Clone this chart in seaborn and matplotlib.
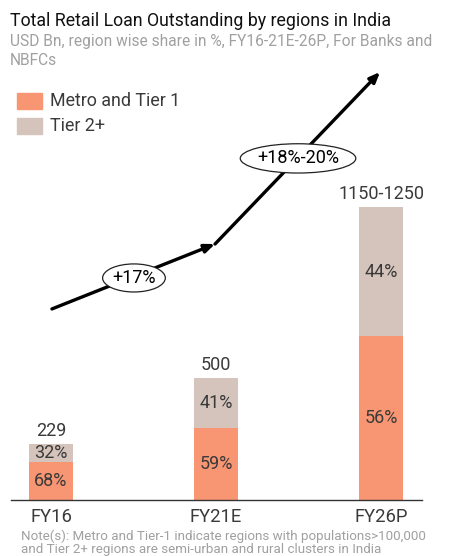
import numpy as np
import pandas as pd
import matplotlib.pyplot as plt
import seaborn as sns
from matplotlib.patches import Ellipse

# data
years = ["FY16", "FY21E", "FY26P"]
totals = [229, 500, 1200]          # FY26P drawn at mid of 1150-1250
total_labels = ["229", "500", "1150-1250"]
metro_share = [68, 59, 56]
tier2_share = [32, 41, 44]
cagr_labels = ["+17%", "+18%-20%"]

metro_col = "#F89572"
tier2_col = "#D5C4BB"
txt_col = "#333333"

df = pd.DataFrame({"year": years, "total": totals,
                   "metro": [t * s / 100 for t, s in zip(totals, metro_share)]})

sns.set_style("white")
plt.rcParams['font.family'] = ['Roboto', 'DejaVu Sans']

fig = plt.figure(figsize=(4.62, 5.56), dpi=100)
ax = fig.add_axes([0.0238, 0.1007, 0.8896, 0.7913])

sns.barplot(data=df, x="year", y="total", color=tier2_col, width=0.27,
            saturation=1, linewidth=0, ax=ax)
sns.barplot(data=df, x="year", y="metro", color=metro_col, width=0.27,
            saturation=1, linewidth=0, ax=ax)

ax.set_xlim(-0.242, 2.248)
ax.set_ylim(0, 1803)
ax.set_xlabel("")
ax.set_ylabel("")
ax.set_yticks([])
for s in ["top", "right", "left"]:
    ax.spines[s].set_visible(False)
ax.spines["bottom"].set_color("#333333")
ax.spines["bottom"].set_linewidth(1)
ax.tick_params(axis="x", length=0, labelsize=13.3, labelcolor="#3a3a3a", pad=6)

for i in range(len(years)):
    m = df["metro"][i]
    t = totals[i]
    ax.text(i, m / 2, f"{metro_share[i]}%", ha="center", va="center",
            fontsize=13, color="#3a3a3a")
    ax.text(i, m + (t - m) / 2, f"{tier2_share[i]}%", ha="center", va="center",
            fontsize=13, color="#3a3a3a")
    ax.text(i, t + 18, total_labels[i], ha="center", va="bottom",
            fontsize=13, color="#3a3a3a")

# growth arrow
pts = [(0.006, 783), (0.994, 1049), (1.994, 1754)]
for a, b in zip(pts[:-1], pts[1:]):
    ax.annotate("", xy=b, xytext=a,
                arrowprops=dict(arrowstyle="-|>,head_length=0.6,head_width=0.25",
                                color="black", lw=2.4, shrinkA=0, shrinkB=0))

ell = [((0.503, 910), 0.38, 115, cagr_labels[0]),
       ((1.497, 1400), 0.70, 120, cagr_labels[1])]
for (cx, cy), w, h, lab in ell:
    ax.add_patch(Ellipse((cx, cy), w, h, facecolor="white", edgecolor="#222222",
                         lw=0.9, zorder=5))
    ax.text(cx, cy, lab, ha="center", va="center", fontsize=13,
            color="black", zorder=6)

# titles
fig.text(0.022, 0.962, "Total Retail Loan Outstanding by regions in India",
         fontsize=12.8, color="#111111", va="center")
fig.text(0.022, 0.925, "USD Bn, region wise share in %, FY16-21E-26P, For Banks and",
         fontsize=11.2, color="#A0A0A0", va="center")
fig.text(0.022, 0.892, "NBFCs", fontsize=11.2, color="#A0A0A0", va="center")

# legend
for yy, col, lab in [(0.818, metro_col, "Metro and Tier 1"),
                     (0.773, tier2_col, "Tier 2+")]:
    fig.patches.append(plt.Rectangle((0.037, yy - 0.014), 0.054, 0.029,
                                     color=col, transform=fig.transFigure))
    fig.text(0.108, yy, lab, fontsize=12.9, color="#3a3a3a", va="center")

fig.text(0.046, 0.035,
         "Note(s): Metro and Tier-1 indicate regions with populations>100,000",
         fontsize=9.6, color="#A0A0A0", va="center")
fig.text(0.046, 0.011,
         "and Tier 2+ regions are semi-urban and rural clusters in India",
         fontsize=9.6, color="#A0A0A0", va="center")

fig.savefig("out.png", dpi=100)
